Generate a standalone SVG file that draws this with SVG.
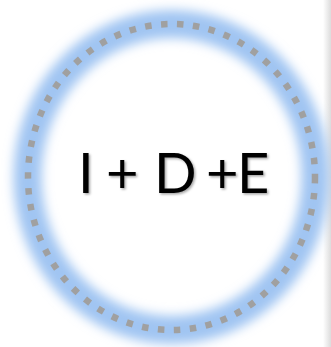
<svg xmlns="http://www.w3.org/2000/svg" width="331" height="347" viewBox="0 0 331 347">
<defs>
<filter id="glow" x="-20%" y="-20%" width="140%" height="140%"><feGaussianBlur stdDeviation="5.5"/></filter>
<filter id="shadow" x="-10%" y="-20%" width="120%" height="140%"><feDropShadow dx="1.5" dy="1.5" stdDeviation="1.2" flood-color="#000" flood-opacity="0.35"/></filter>
<linearGradient id="edge" x1="0" y1="0" x2="1" y2="0"><stop offset="0" stop-color="#ffffff"/><stop offset="1" stop-color="#dcdcdc"/></linearGradient>
</defs>
<style>
.ring{fill:none;stroke:#a0a0a0;stroke-width:6.5;stroke-dasharray:6.5 9.5}
.halo{fill:none;stroke:#a0c5f2;stroke-width:28}
.label{font-family:"Lato","Open Sans",sans-serif;font-size:56px;fill:#000}
</style>
<rect width="331" height="347" fill="#fff"/>
<rect x="323" y="0" width="8" height="347" fill="url(#edge)"/>
<g id="node-ide">
<ellipse class="halo" cx="171.5" cy="177" rx="144" ry="153" filter="url(#glow)"/>
<ellipse class="ring" cx="171.5" cy="177" rx="143.5" ry="153"/>
<text class="label" y="193" filter="url(#shadow)"><tspan x="78">I</tspan><tspan x="106">+</tspan><tspan x="154">D</tspan><tspan x="206">+</tspan><tspan x="237">E</tspan></text>
</g>
<g id="connectors"/>
</svg>
